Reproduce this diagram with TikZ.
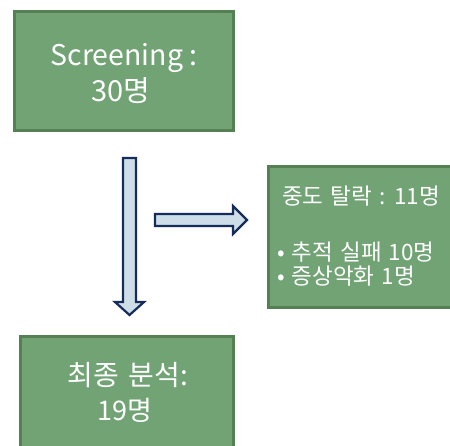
\documentclass[tikz,border=0pt]{standalone}
\usepackage{fontspec}
\setmainfont{Noto Sans CJK KR}
\newfontfamily\wfont[WordSpace=1.3,LetterSpace=2]{Noto Sans CJK KR}
\newfontfamily\sfont[WordSpace=1.4]{Noto Sans CJK KR}
\definecolor{boxfill}{RGB}{113,163,117}
\definecolor{boxedge}{RGB}{84,128,84}
\definecolor{arrfill}{RGB}{205,222,232}
\definecolor{arredge}{RGB}{22,44,90}
\tikzset{
  gbox/.style={draw=boxedge, line width=3pt, fill=boxfill},
  barrow/.style={draw=arredge, line width=2.2pt, fill=arrfill, line join=miter},
  btext/.style={text=white, align=center, inner sep=0pt, anchor=base},
  stext/.style={text=white, font=\sfont\fontsize{22.5}{26}\selectfont, inner sep=0pt, anchor=base west},
}
\begin{document}
\begin{tikzpicture}[x=1pt,y=-1pt]
\useasboundingbox (0,0) rectangle (450,445);
\fill[white] (0,0) rectangle (450,445);
% boxes
\draw[gbox] (14,11) rectangle (233,130);
\draw[gbox] (20,336) rectangle (233,460);
\draw[gbox] (268,166) rectangle (460,307);
% texts
\node[btext, font=\fontsize{28.5}{34}\selectfont] (t1) at (124,65) {Screening :};
\node[btext, font=\fontsize{29}{34}\selectfont] (t2) at (121,101) {30명};
\node[btext, font=\wfont\fontsize{28}{33}\selectfont] (b1) at (128,385) {최종 분석:};
\node[btext, font=\fontsize{27}{31}\selectfont] (b2) at (125,420) {19명};
\node[stext] (r1) at (282,204) {중도 탈락 : 11명};
\node[stext] (r2) at (277,260) {• 추적 실패 10명};
\node[stext] (r3) at (277,284) {• 증상악화 1명};
% arrows
\draw[barrow] (123,158) -- (136,158) -- (136,302) -- (144,302) -- (129.5,315) -- (115,302) -- (123,302) -- cycle;
\draw[barrow] (155,214) -- (233,214) -- (233,206) -- (247,220) -- (233,234) -- (233,226) -- (155,226) -- cycle;
\end{tikzpicture}
\end{document}
